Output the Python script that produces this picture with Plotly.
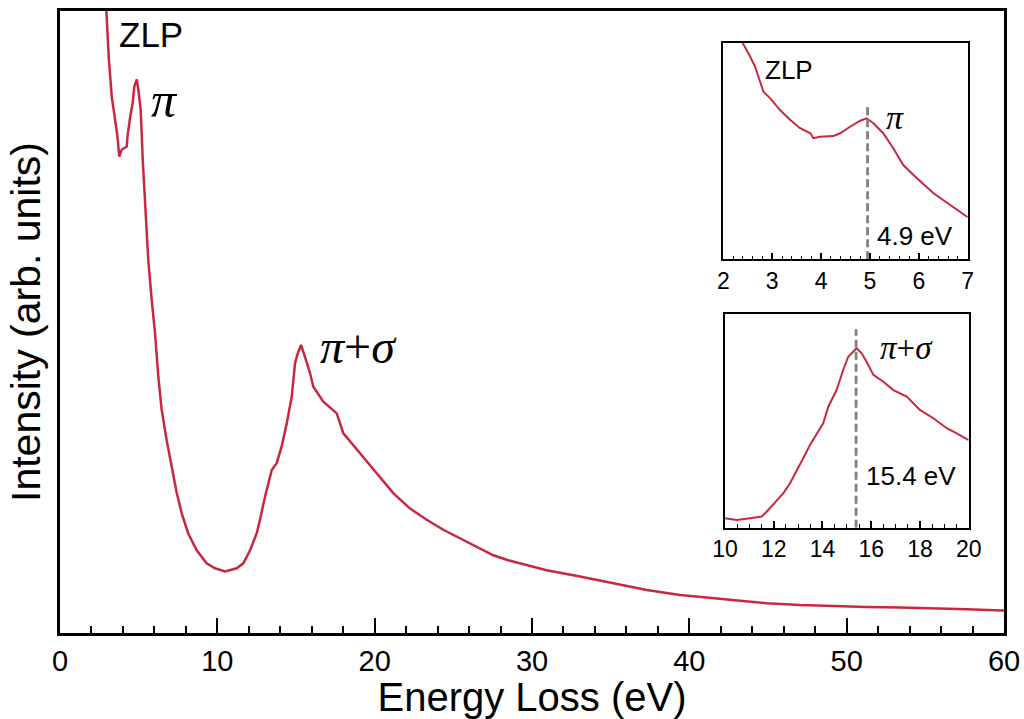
import plotly.graph_objects as go

# ---------------- data ----------------
main_E = [2.70, 2.92, 3.11, 3.29, 3.50, 3.64, 3.77, 3.92, 4.24, 4.28, 4.45, 4.62, 4.72, 4.88,
          4.98, 5.13, 5.26, 5.40, 5.61, 5.83, 6.04, 6.25, 6.46, 6.78, 7.10, 7.42, 7.74, 8.15,
          8.69, 9.32, 9.85, 10.49, 11.23, 11.65, 12.08, 12.50, 12.71, 13.03, 13.46, 13.77,
          14.09, 14.41, 14.73, 14.94, 15.08, 15.32, 15.57, 15.89, 16.10, 16.74, 17.59, 18.01,
          19.07, 20.13, 21.18, 22.25, 23.31, 24.36, 25.42, 26.49, 27.54, 28.49, 29.24, 30.93,
          33.05, 35.17, 37.29, 39.41, 41.52, 43.11, 44.92, 47.03, 49.15, 51.27, 53.39, 55.51,
          57.63, 59.85, 60.0]
main_I = [112.0, 100.0, 92.1, 86.2, 82.2, 80.1, 76.6, 77.7, 78.2, 79.6, 82.8, 85.2, 87.8, 89.0,
          87.3, 84.1, 76.0, 69.6, 60.0, 53.5, 48.2, 41.2, 35.9, 31.0, 26.7, 22.5, 19.2, 16.0,
          13.3, 11.2, 10.4, 9.9, 10.4, 11.2, 13.3, 16.0, 18.2, 21.9, 26.2, 27.3,
          30.0, 33.7, 38.0, 43.4, 44.7, 46.3, 44.4, 41.8, 39.6, 37.2, 35.3, 32.1,
          28.9, 25.7, 22.5, 20.0, 18.2, 16.6, 15.2, 13.9, 12.5, 11.7, 11.2, 10.1,
          9.1, 8.0, 6.9, 6.1, 5.6, 5.3, 4.8, 4.5, 4.3, 4.2, 4.1, 4.0,
          3.8, 3.6, 3.6]

pi_E = [2.33, 2.40, 2.55, 2.65, 2.82, 2.96, 3.16, 3.37, 3.57, 3.78, 3.84, 3.98, 4.25, 4.39,
        4.59, 4.80, 4.93, 5.07, 5.27, 5.48, 5.68, 5.96, 6.30, 6.64, 6.98, 7.00]
pi_I = [104.0, 99.7, 93.5, 88.9, 77.4, 74.3, 68.9, 64.3, 60.5, 58.2, 55.9, 56.6, 56.9, 58.2,
        61.2, 64.0, 65.1, 62.8, 58.2, 51.2, 43.5, 37.4, 30.5, 25.1, 19.7, 19.4]

ps_E = [10.00, 10.48, 11.03, 11.51, 11.71, 11.98, 12.39, 12.67, 12.94, 13.21, 13.49, 13.69,
        14.03, 14.24, 14.58, 14.85, 15.06, 15.40, 15.61, 15.81, 16.09, 16.50, 16.91, 17.46,
        17.59, 18.00, 18.55, 19.10, 19.51, 19.98, 20.0]
ps_I = [4.4, 3.6, 4.4, 5.2, 7.5, 11.1, 16.1, 20.8, 27.0, 32.5, 38.8, 42.6,
        48.9, 56.7, 64.5, 73.9, 80.1, 84.1, 81.7, 77.8, 71.6, 68.4, 64.5, 61.4,
        59.8, 55.2, 51.3, 46.6, 44.2, 41.1, 41.0]

pi_peak = 4.95
ps_peak = 15.38

main_ticks = [0, 10, 20, 30, 40, 50, 60]
inset1_ticks = [2, 3, 4, 5, 6, 7]
inset2_ticks = [10, 12, 14, 16, 18, 20]

# ---------------- style ----------------
RED = "#c8283f"
GREY = "#808080"
SANS = "Liberation Sans, Arial, sans-serif"
SERIF = "Liberation Serif, Times New Roman, serif"

fig = go.Figure()
fig.add_trace(go.Scatter(x=main_E, y=main_I, mode="lines",
                         line=dict(color=RED, width=2.5), xaxis="x", yaxis="y",
                         showlegend=False))
fig.add_trace(go.Scatter(x=pi_E, y=pi_I, mode="lines",
                         line=dict(color=RED, width=2), xaxis="x2", yaxis="y2",
                         showlegend=False))
fig.add_trace(go.Scatter(x=ps_E, y=ps_I, mode="lines",
                         line=dict(color=RED, width=2), xaxis="x3", yaxis="y3",
                         showlegend=False))
# dashed peak markers
fig.add_trace(go.Scatter(x=[pi_peak, pi_peak], y=[0, 72], mode="lines",
                         line=dict(color=GREY, width=2.8, dash="8px,4px"),
                         xaxis="x2", yaxis="y2", showlegend=False))
fig.add_trace(go.Scatter(x=[ps_peak, ps_peak], y=[0, 93], mode="lines",
                         line=dict(color=GREY, width=2.8, dash="8px,4px"),
                         xaxis="x3", yaxis="y3", showlegend=False))

axis_common = dict(showline=True, mirror=True, linecolor="black", showgrid=False,
                   zeroline=False, ticks="inside", tickcolor="black", automargin=False)

fig.update_layout(
    width=1024, height=719,
    margin=dict(l=60, r=20, t=11, b=86, autoexpand=False),
    paper_bgcolor="white", plot_bgcolor="white",
    font=dict(family=SANS, color="black"),
    xaxis=dict(**axis_common, domain=[0, 1], range=[0, 60], linewidth=2.5,
               tickvals=main_ticks, ticklen=15, tickwidth=2,
               tickfont=dict(size=29),
               minor=dict(dtick=2, ticklen=7, tickwidth=1.5, ticks="inside", tickcolor="black"),
               title=dict(text="Energy Loss (eV)", font=dict(size=40), standoff=0)),
    yaxis=dict(showline=True, mirror=True, linecolor="black", linewidth=2.5,
               showgrid=False, zeroline=False, range=[0, 100], showticklabels=False,
               ticks="", domain=[0, 1], automargin=False,
               title=dict(text="Intensity (arb. units)", font=dict(size=41), standoff=4)),
    xaxis2=dict(**axis_common, domain=[0.7027, 0.9616], range=[2, 7], anchor="y2",
                linewidth=1.5, tickvals=inset1_ticks, ticklen=7, tickwidth=1.5,
                tickfont=dict(size=23),
                minor=dict(dtick=0.2, ticklen=4, tickwidth=1.2, ticks="inside", tickcolor="black")),
    yaxis2=dict(showline=True, mirror=True, linecolor="black", linewidth=1.5,
                showgrid=False, zeroline=False, range=[0, 100], showticklabels=False,
                ticks="", domain=[0.6008, 0.9490], anchor="x2", automargin=False),
    xaxis3=dict(**axis_common, domain=[0.7044, 0.9626], range=[10, 20], anchor="y3",
                linewidth=1.5, tickvals=inset2_ticks, ticklen=7, tickwidth=1.5,
                tickfont=dict(size=23),
                minor=dict(dtick=0.5, ticklen=4, tickwidth=1.2, ticks="inside", tickcolor="black")),
    yaxis3=dict(showline=True, mirror=True, linecolor="black", linewidth=1.5,
                showgrid=False, zeroline=False, range=[0, 100], showticklabels=False,
                ticks="", domain=[0.1693, 0.5124], anchor="x3", automargin=False),
)

ann = [
    dict(text="ZLP", x=5.78, y=96.2, xref="x", yref="y", font=dict(family=SANS, size=35)),
    dict(text="<i>π</i>", x=6.61, y=85.7, xref="x", yref="y", font=dict(family=SERIF, size=50)),
    dict(text="<i>π</i>+<i>σ</i>", x=19.0, y=46.1, xref="x", yref="y",
         font=dict(family=SERIF, size=48)),
    dict(text="ZLP", x=3.34, y=87.4, xref="x2", yref="y2", font=dict(family=SANS, size=26)),
    dict(text="<i>π</i>", x=5.51, y=65.7, xref="x2", yref="y2", font=dict(family=SERIF, size=34)),
    dict(text="4.9 eV", x=5.92, y=10.8, xref="x2", yref="y2", font=dict(family=SANS, size=26)),
    dict(text="<i>π</i>+<i>σ</i>", x=17.43, y=84.2, xref="x3", yref="y3",
         font=dict(family=SERIF, size=33)),
    dict(text="15.4 eV", x=17.63, y=24.2, xref="x3", yref="y3", font=dict(family=SANS, size=26)),
]
for a in ann:
    a.update(showarrow=False, xanchor="center", yanchor="middle")
fig.update_layout(annotations=ann)

fig.write_html("out.html", config={"displayModeBar": False},
               post_script="document.body.style.margin='0';document.body.style.overflow='hidden';")
